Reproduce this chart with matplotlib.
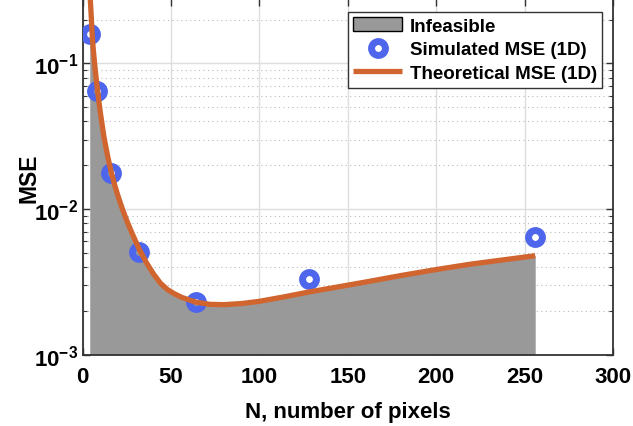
import matplotlib
matplotlib.use("Agg")
import matplotlib.pyplot as plt
import numpy as np
from matplotlib.ticker import FixedLocator, LogLocator, NullFormatter

# simulated MSE points (1D)
n_sim = [4, 8, 16, 32, 64, 128, 256]
mse_sim = [0.159, 0.0649, 0.0177, 0.00507, 0.00231, 0.0033, 0.00643]

# theoretical MSE curve
n_theo = [4, 4.5, 5, 5.5, 6, 7, 8, 9, 10, 11, 12, 14, 16, 18, 20, 22.5,
          25, 28, 32, 36, 40, 44, 48, 52, 56, 64, 72, 80, 90, 100, 114,
          128, 144, 160, 180, 200, 220, 240, 256]
mse_theo = [0.33, 0.25, 0.195, 0.148, 0.125, 0.093, 0.072, 0.057, 0.046,
            0.038, 0.0315, 0.0235, 0.0183, 0.0148, 0.0123, 0.0100, 0.0083,
            0.0068, 0.0053, 0.0043, 0.0036, 0.0031, 0.0028, 0.00262,
            0.00248, 0.00230, 0.00222, 0.00221, 0.00225, 0.00233, 0.00250,
            0.00270, 0.00292, 0.00316, 0.00350, 0.00385, 0.00420, 0.00452,
            0.00479]

x_ticks = [0, 50, 100, 150, 200, 250, 300]
y_ticks = [1e-3, 1e-2, 1e-1]
y_labels = [r'$\mathbf{10^{-3}}$', r'$\mathbf{10^{-2}}$', r'$\mathbf{10^{-1}}$']

plt.rcParams['font.family'] = ['Liberation Sans', 'DejaVu Sans']
plt.rcParams['font.weight'] = 'bold'
plt.rcParams['mathtext.fontset'] = 'custom'
plt.rcParams['mathtext.bf'] = 'Liberation Sans:bold'
plt.rcParams['mathtext.rm'] = 'Liberation Sans:bold'

fig = plt.figure(figsize=(6.33, 4.27), dpi=100)
ax = fig.add_axes([0.1306, 0.1667, 0.8378, 0.8323])

ax.set_yscale('log')
ax.fill_between(n_theo, mse_theo, 1e-3, color='#999999', lw=0,
                label='Infeasible', zorder=2)
ax.plot(n_sim, mse_sim, 'o', ms=10, mfc='none', mec='#4D66EB', mew=5,
        label='Simulated MSE (1D)', zorder=3)
ax.plot(n_theo, mse_theo, '-', color='#D0652F', lw=3.8,
        solid_capstyle='butt', solid_joinstyle='round',
        label='Theoretical MSE (1D)', zorder=4)

ax.set_xlim(0, 300)
ax.set_ylim(1e-3, 0.275)
ax.set_xticks(x_ticks)
ax.yaxis.set_major_locator(FixedLocator(y_ticks))
ax.set_yticklabels(y_labels)
ax.yaxis.set_minor_locator(LogLocator(base=10, subs=np.arange(2, 10)))
ax.yaxis.set_minor_formatter(NullFormatter())

ax.grid(True, which='major', color='#DDDDDD', lw=1, ls='-', zorder=0)
ax.grid(True, which='minor', axis='y', color='#BBBBBB', lw=0.8,
        ls=(0, (1, 3)), zorder=0)
ax.set_axisbelow(True)

ax.tick_params(which='both', direction='in', top=True, right=True,
               color='#333333')
ax.tick_params(which='major', length=5, labelsize=16, width=1)
ax.tick_params(axis='x', which='major', pad=8)
ax.tick_params(which='minor', length=3, width=0.8)
for s in ax.spines.values():
    s.set_color('#333333')
    s.set_linewidth(1.3)
for lab in ax.get_xticklabels() + ax.get_yticklabels():
    lab.set_fontweight('bold')

ax.set_xlabel('N, number of pixels', fontsize=16, fontweight='bold',
              labelpad=10)
ax.set_ylabel('MSE', fontsize=16.5, fontweight='bold')
ax.yaxis.set_label_coords(-0.079, 0.5)

leg = ax.legend(loc='upper right', bbox_to_anchor=(0.98, 0.965),
                borderaxespad=0, fontsize=13.5, handlelength=2.6,
                handletextpad=0.4, labelspacing=0.35, borderpad=0.3,
                fancybox=False, framealpha=1, edgecolor='#333333')
leg.get_frame().set_linewidth(1)
leg.legend_handles[0].set_edgecolor('black')
leg.legend_handles[0].set_linewidth(1)

fig.savefig('out.png', dpi=100)
